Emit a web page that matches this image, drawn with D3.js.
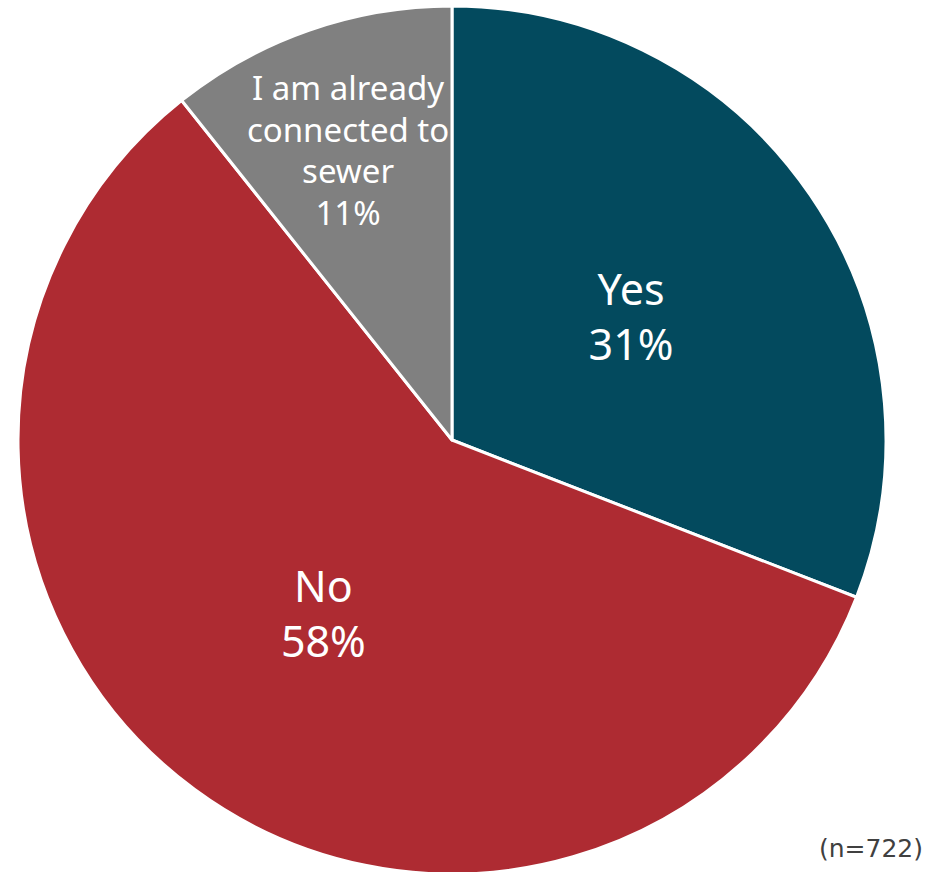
<!DOCTYPE html>
<html><head><meta charset="utf-8">
<script src="https://cdn.jsdelivr.net/npm/d3@7"></script>
<style>html,body{margin:0;padding:0;background:#fff;overflow:hidden}</style>
</head><body>
<svg id="chart" width="930" height="872"></svg>
<script>
const categories = ["Yes", "No", "I am already connected to sewer"];
const labelLines = [["Yes"], ["No"], ["I am already", "connected to", "sewer"]];
const values = [30.9, 58.4, 10.7];
const colors = ["#034A5E", "#AE2B32", "#808080"];
const note = "(n=722)";

const svg = d3.select("#chart");
const cx = 452, cy = 440, R = 434;
const g = svg.append("g").attr("transform", `translate(${cx},${cy})`);
const pie = d3.pie().sort(null).value(d => d.v);
const data = pie(values.map((v, i) => ({v, i})));
const arc = d3.arc().innerRadius(0).outerRadius(R);
g.selectAll("path").data(data).join("path")
  .attr("d", arc).attr("fill", d => colors[d.data.i])
  .attr("stroke", "#fff").attr("stroke-width", 3).attr("stroke-linejoin", "round");

const font = "'Noto Sans', 'Open Sans', sans-serif";
data.forEach(d => {
  const i = d.data.i;
  const small = labelLines[i].length > 1;
  const lr = small ? R * 0.705 : R * 0.5;
  const c = d3.arc().innerRadius(lr).outerRadius(lr).centroid(d);
  const lines = labelLines[i].concat([Math.round(d.data.v) + "%"]);
  const fs = small ? 33 : 43;
  const lh = small ? 41.5 : 55;
  const t = g.append("text").attr("text-anchor", "middle").attr("fill", "#fff")
    .style("font-family", font).style("font-size", fs + "px");
  lines.forEach((s, k) => {
    t.append("tspan").attr("x", c[0] - (small ? 3 : 0))
      .attr("y", c[1] + (k - (lines.length - 1) / 2) * lh)
      .attr("dy", "0.35em").text(s);
  });
});

svg.append("text").attr("x", 923).attr("y", 857).attr("text-anchor", "end")
  .attr("fill", "#404040").style("font-family", "'DejaVu Sans', sans-serif")
  .style("font-size", "25px").text(note);
</script>
</body></html>
